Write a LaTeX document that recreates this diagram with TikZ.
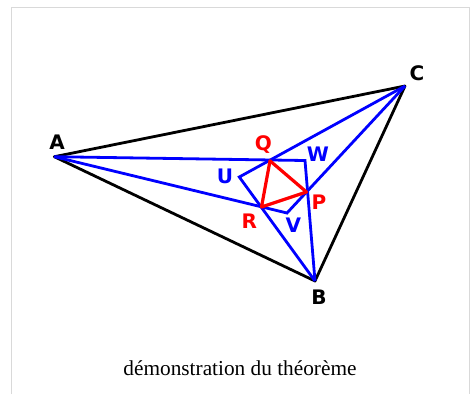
\documentclass[tikz,border=0pt]{standalone}
\usepackage{fontspec}
\setmainfont{Liberation Serif}
\newfontfamily\labelfont{DejaVu Sans}
\usepackage{xcolor}

\begin{document}
\begin{tikzpicture}[x=1pt, y=-1pt,
        every node/.style={font=\labelfont\bfseries\fontsize{20}{24}\selectfont, inner sep=0pt},
        outer/.style={draw=black, line width=2.8pt, line join=round},
        cevian/.style={draw=blue, line width=2.8pt, line join=miter},
        inner/.style={draw=red, line width=3.2pt, line join=round},
        frame/.style={draw=gray!30, line width=1pt},
        caption/.style={font=\rmfamily\fontsize{21.3}{25}\selectfont}]

      \useasboundingbox (0,0) rectangle (470,394);
      \draw[frame] (11,394) -- (11,7) -- (469,7) -- (469,394);

      \coordinate (A) at (54.3,156.7);
      \coordinate (B) at (315,281);
      \coordinate (C) at (405,86);
      \coordinate (U) at (239.3,177);
      \coordinate (V) at (287,213);
      \coordinate (W) at (305,160.5);
      \coordinate (P) at (306.5,192);
      \coordinate (Q) at (270,160.8);
      \coordinate (R) at (261.5,207);

      \draw[outer] (A) -- (C) -- (B) -- cycle;
      \draw[cevian] (A) -- (W) -- (B);
      \draw[cevian] (A) -- (V) -- (C);
      \draw[cevian] (C) -- (U) -- (B);
      \draw[inner] (P) -- (Q) -- (R) -- cycle;

      \node (labA) at (57,142) {A};
      \node (labB) at (319,297) {B};
      \node (labC) at (417,73) {C};
      \node[blue] (labU) at (225,176.5) {U};
      \node[blue] (labV) at (293.3,225) {V};
      \node[blue] (labW) at (318,154.5) {W};
      \node[red] (labP) at (319,202) {P};
      \node[red] (labQ) at (263.3,145) {Q};
      \node[red] (labR) at (249.3,221) {R};

      \node[caption] (cap) at (240,368) {démonstration du théorème};
    \end{tikzpicture}
\end{document}
